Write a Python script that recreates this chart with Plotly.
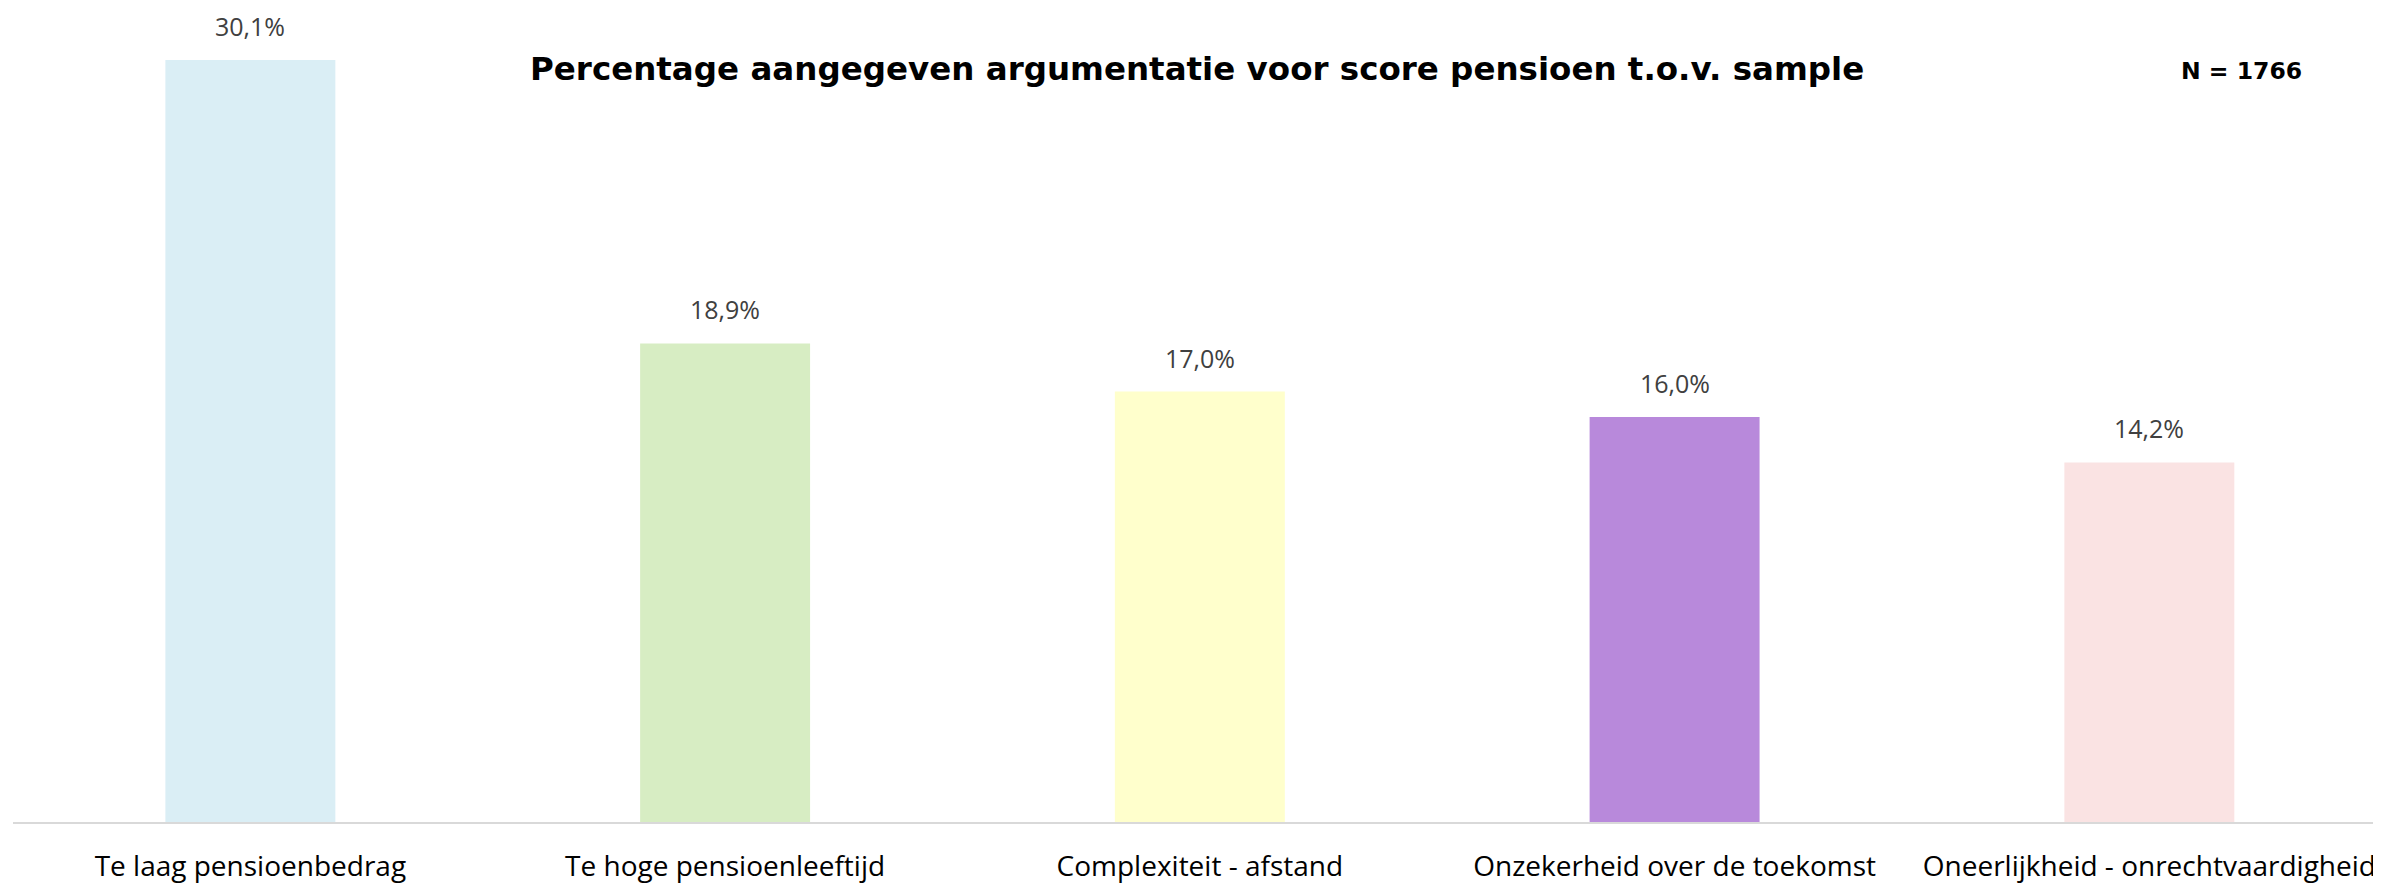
import plotly.graph_objects as go

categories = ["Te laag pensioenbedrag", "Te hoge pensioenleeftijd", "Complexiteit - afstand",
              "Onzekerheid over de toekomst", "Oneerlijkheid - onrechtvaardigheid"]
values = [30.1, 18.9, 17.0, 16.0, 14.2]
colors = ["#DAEEF5", "#D7EDC3", "#FFFFCC", "#B889DB", "#FAE3E3"]
title_text = "Percentage aangegeven argumentatie voor score pensioen t.o.v. sample"
n_text = "N = 1766"

fig = go.Figure()
fig.add_trace(go.Bar(x=categories, y=values, marker=dict(color=colors, line=dict(width=0)),
                     hoverinfo="skip"))

for c, v in zip(categories, values):
    fig.add_annotation(x=c, y=v, text=f"{v:.1f}".replace(".", ",") + "%", showarrow=False,
                       yanchor="bottom", yshift=15,
                       font=dict(family="Open Sans", size=25, color="#404040"))

fig.add_annotation(xref="paper", yref="paper", x=0.5, y=0.925, text=title_text, showarrow=False,
                   xanchor="center", yanchor="middle",
                   font=dict(family="DejaVu Sans", size=32.5, color="#000000", weight="bold"))
fig.add_annotation(xref="paper", yref="paper", x=0.941, y=0.922, text=n_text, showarrow=False,
                   xanchor="center", yanchor="middle",
                   font=dict(family="DejaVu Sans", size=23.5, color="#000000", weight="bold"))

fig.update_layout(
    width=2373, height=878,
    margin=dict(l=5, r=0, t=0, b=64, autoexpand=False),
    paper_bgcolor="white", plot_bgcolor="white",
    bargap=0.642, showlegend=False,
    xaxis=dict(range=[-0.5, 4.488], showgrid=False, showline=True, linecolor="#D9D9D9", linewidth=2,
               ticks="", ticklabelstandoff=18,
               tickfont=dict(family="Open Sans", size=28, color="#000000")),
    yaxis=dict(range=[0, 32.15], visible=False, showgrid=False, zeroline=False),
)

fig.write_html("out.html")
